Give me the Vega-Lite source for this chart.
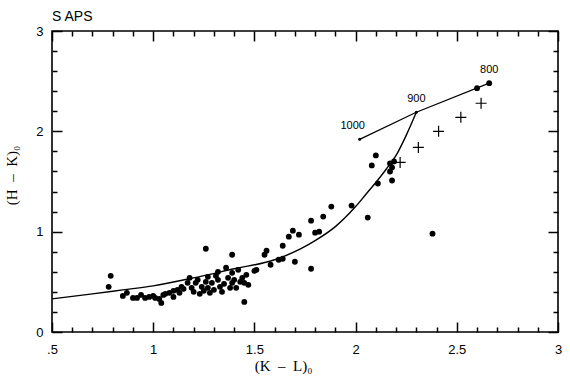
{
  "$schema": "https://vega.github.io/schema/vega-lite/v6.json",
  "width": 506,
  "height": 301,
  "autosize": {"type": "none"},
  "padding": {"left": 52, "top": 31, "right": 12, "bottom": 44},
  "background": "white",
  "title": {"text": "S APS", "anchor": "start", "frame": "group", "offset": -10, "baseline": "alphabetic", "font": "Liberation Sans", "fontSize": 14, "fontWeight": "normal", "color": "black"},
  "config": {
    "view": {"stroke": "black", "strokeWidth": 1.6},
    "axis": {"labelFont": "Liberation Sans", "labelFontSize": 13, "labelColor": "black", "titleFont": "Liberation Serif", "titleFontSize": 15, "titleFontWeight": "normal", "titleColor": "black", "tickColor": "black", "tickWidth": 1.5, "domain": false, "grid": false}
  },
  "datasets": {
    "stars": [
      {"kl": 0.79, "hk": 0.56}, {"kl": 0.78, "hk": 0.45},
      {"kl": 0.85, "hk": 0.36}, {"kl": 0.87, "hk": 0.39}, {"kl": 0.90, "hk": 0.34}, {"kl": 0.92, "hk": 0.34},
      {"kl": 0.94, "hk": 0.37}, {"kl": 0.96, "hk": 0.34}, {"kl": 0.98, "hk": 0.35}, {"kl": 1.00, "hk": 0.36},
      {"kl": 1.01, "hk": 0.34}, {"kl": 1.03, "hk": 0.33}, {"kl": 1.04, "hk": 0.29}, {"kl": 1.05, "hk": 0.37},
      {"kl": 1.06, "hk": 0.38}, {"kl": 1.08, "hk": 0.39}, {"kl": 1.10, "hk": 0.35}, {"kl": 1.10, "hk": 0.41},
      {"kl": 1.12, "hk": 0.42}, {"kl": 1.13, "hk": 0.39}, {"kl": 1.14, "hk": 0.45}, {"kl": 1.15, "hk": 0.43},
      {"kl": 1.17, "hk": 0.49}, {"kl": 1.18, "hk": 0.54}, {"kl": 1.19, "hk": 0.44}, {"kl": 1.20, "hk": 0.40},
      {"kl": 1.21, "hk": 0.49}, {"kl": 1.22, "hk": 0.52}, {"kl": 1.23, "hk": 0.38}, {"kl": 1.24, "hk": 0.45},
      {"kl": 1.25, "hk": 0.41}, {"kl": 1.26, "hk": 0.50}, {"kl": 1.27, "hk": 0.44}, {"kl": 1.27, "hk": 0.55},
      {"kl": 1.28, "hk": 0.39}, {"kl": 1.29, "hk": 0.49}, {"kl": 1.30, "hk": 0.42}, {"kl": 1.31, "hk": 0.56},
      {"kl": 1.32, "hk": 0.60}, {"kl": 1.32, "hk": 0.52}, {"kl": 1.33, "hk": 0.45}, {"kl": 1.34, "hk": 0.40},
      {"kl": 1.35, "hk": 0.48}, {"kl": 1.36, "hk": 0.64}, {"kl": 1.37, "hk": 0.54}, {"kl": 1.38, "hk": 0.44},
      {"kl": 1.39, "hk": 0.49}, {"kl": 1.39, "hk": 0.59}, {"kl": 1.40, "hk": 0.52}, {"kl": 1.41, "hk": 0.44},
      {"kl": 1.42, "hk": 0.62}, {"kl": 1.43, "hk": 0.50}, {"kl": 1.44, "hk": 0.54}, {"kl": 1.45, "hk": 0.49},
      {"kl": 1.46, "hk": 0.57}, {"kl": 1.47, "hk": 0.47},
      {"kl": 1.26, "hk": 0.83}, {"kl": 1.39, "hk": 0.77}, {"kl": 1.45, "hk": 0.30}, {"kl": 1.50, "hk": 0.61},
      {"kl": 1.51, "hk": 0.62}, {"kl": 1.55, "hk": 0.77}, {"kl": 1.56, "hk": 0.81}, {"kl": 1.58, "hk": 0.67},
      {"kl": 1.62, "hk": 0.72}, {"kl": 1.64, "hk": 0.73}, {"kl": 1.64, "hk": 0.86}, {"kl": 1.67, "hk": 0.95},
      {"kl": 1.69, "hk": 1.01}, {"kl": 1.70, "hk": 0.70}, {"kl": 1.72, "hk": 0.97}, {"kl": 1.78, "hk": 0.63},
      {"kl": 1.78, "hk": 1.11}, {"kl": 1.80, "hk": 0.99}, {"kl": 1.82, "hk": 1.00}, {"kl": 1.84, "hk": 1.15},
      {"kl": 1.88, "hk": 1.25}, {"kl": 1.98, "hk": 1.26}, {"kl": 2.06, "hk": 1.14}, {"kl": 2.08, "hk": 1.66},
      {"kl": 2.10, "hk": 1.76}, {"kl": 2.11, "hk": 1.48}, {"kl": 2.17, "hk": 1.68}, {"kl": 2.18, "hk": 1.64},
      {"kl": 2.17, "hk": 1.60}, {"kl": 2.18, "hk": 1.51}, {"kl": 2.19, "hk": 1.70}, {"kl": 2.38, "hk": 0.98},
      {"kl": 2.60, "hk": 2.43}, {"kl": 2.66, "hk": 2.48}
    ],
    "curve": [
      {"kl": 0.5, "hk": 0.33}, {"kl": 0.7, "hk": 0.38}, {"kl": 0.85, "hk": 0.42}, {"kl": 1.0, "hk": 0.46},
      {"kl": 1.2, "hk": 0.54}, {"kl": 1.4, "hk": 0.63}, {"kl": 1.6, "hk": 0.72}, {"kl": 1.73, "hk": 0.83},
      {"kl": 1.8, "hk": 0.91}, {"kl": 1.9, "hk": 1.05}, {"kl": 2.0, "hk": 1.25}, {"kl": 2.05, "hk": 1.37},
      {"kl": 2.1, "hk": 1.49}, {"kl": 2.15, "hk": 1.62}, {"kl": 2.2, "hk": 1.76}, {"kl": 2.25, "hk": 1.96},
      {"kl": 2.30, "hk": 2.19}
    ],
    "temps": [
      {"kl": 2.02, "hk": 1.92, "label": "1000"},
      {"kl": 2.30, "hk": 2.19, "label": "900"},
      {"kl": 2.66, "hk": 2.48, "label": "800"}
    ],
    "crosses": [
      {"kl": 2.22, "hk": 1.69}, {"kl": 2.31, "hk": 1.84}, {"kl": 2.41, "hk": 2.00},
      {"kl": 2.52, "hk": 2.14}, {"kl": 2.62, "hk": 2.28}
    ]
  },
  "layer": [
    {
      "data": {"name": "stars"},
      "mark": {"type": "point", "shape": "circle", "filled": true, "color": "black", "opacity": 1, "size": 34},
      "encoding": {
        "x": {"field": "kl", "type": "quantitative", "scale": {"domain": [0.5, 3], "nice": false, "zero": false},
          "axis": {"orient": "bottom", "values": [0.5, 1, 1.5, 2, 2.5, 3], "tickSize": -10,
            "labelExpr": "abs(datum.value-0.5)<0.01 ? '.5' : format(datum.value, '')",
            "labelPadding": 21, "labelBaseline": "top", "labelFlush": false,
            "title": "(K\u2002–\u2002L)\u2080", "titleX": 231, "titleY": 38, "titleBaseline": "alphabetic"}},
        "y": {"field": "hk", "type": "quantitative", "scale": {"domain": [0, 3], "nice": false, "zero": false},
          "axis": {"orient": "left", "values": [0, 1, 2, 3], "tickSize": -10,
            "labelExpr": "format(datum.value, '')",
            "labelPadding": 19, "labelFlush": false,
            "title": "(H\u2002–\u2002K)\u2080", "titleX": -41, "titleY": 144, "titleBaseline": "middle", "titleAngle": -90}}
      }
    },
    {
      "data": {"name": "curve"},
      "mark": {"type": "line", "color": "black", "strokeWidth": 1.4, "interpolate": "monotone"},
      "encoding": {
        "x": {"field": "kl", "type": "quantitative", "scale": {"domain": [0.5, 3], "nice": false, "zero": false},
          "axis": {"orient": "top", "values": [0.5, 1, 1.5, 2, 2.5, 3], "tickSize": -10, "labels": false, "title": null, "minExtent": 0, "maxExtent": 0}},
        "y": {"field": "hk", "type": "quantitative", "scale": {"domain": [0, 3], "nice": false, "zero": false},
          "axis": {"orient": "right", "values": [0, 1, 2, 3], "tickSize": -10, "labels": false, "title": null, "minExtent": 0, "maxExtent": 0}}
      }
    },
    {
      "data": {"name": "temps"},
      "mark": {"type": "line", "color": "black", "strokeWidth": 1.2, "point": {"filled": true, "color": "black", "size": 9}},
      "encoding": {
        "x": {"field": "kl", "type": "quantitative", "scale": {"domain": [0.5, 3], "nice": false, "zero": false},
          "axis": {"orient": "bottom", "values": [0.6,0.7,0.8,0.9,1.1,1.2,1.3,1.4,1.6,1.7,1.8,1.9,2.1,2.2,2.3,2.4,2.6,2.7,2.8,2.9], "tickSize": -5, "labels": false, "title": null, "minExtent": 0, "maxExtent": 0}},
        "y": {"field": "hk", "type": "quantitative", "scale": {"domain": [0, 3], "nice": false, "zero": false},
          "axis": {"orient": "left", "values": [0.2,0.4,0.6,0.8,1.2,1.4,1.6,1.8,2.2,2.4,2.6,2.8], "tickSize": -5, "labels": false, "title": null, "minExtent": 0, "maxExtent": 0}}
      }
    },
    {
      "data": {"name": "temps"},
      "transform": [{"filter": "datum.label != '1000'"}],
      "mark": {"type": "text", "font": "Liberation Sans", "fontSize": 11, "color": "black", "align": "center", "baseline": "middle", "dy": -13},
      "encoding": {
        "x": {"field": "kl", "type": "quantitative", "scale": {"domain": [0.5, 3], "nice": false, "zero": false}, "axis": null},
        "y": {"field": "hk", "type": "quantitative", "scale": {"domain": [0, 3], "nice": false, "zero": false}, "axis": null},
        "text": {"field": "label"}
      }
    },
    {
      "data": {"name": "temps"},
      "transform": [{"filter": "datum.label == '1000'"}],
      "mark": {"type": "text", "font": "Liberation Sans", "fontSize": 11, "color": "black", "align": "center", "baseline": "middle", "dy": -13, "dx": -7},
      "encoding": {
        "x": {"field": "kl", "type": "quantitative", "scale": {"domain": [0.5, 3], "nice": false, "zero": false}, "axis": null},
        "y": {"field": "hk", "type": "quantitative", "scale": {"domain": [0, 3], "nice": false, "zero": false}, "axis": null},
        "text": {"field": "label"}
      }
    },
    {
      "data": {"name": "crosses"},
      "mark": {"type": "point", "shape": "M-1,0H1M0,-1V1", "filled": false, "stroke": "black", "strokeWidth": 1.2, "opacity": 1, "size": 121},
      "encoding": {
        "x": {"field": "kl", "type": "quantitative", "scale": {"domain": [0.5, 3], "nice": false, "zero": false},
          "axis": {"orient": "top", "values": [0.6,0.7,0.8,0.9,1.1,1.2,1.3,1.4,1.6,1.7,1.8,1.9,2.1,2.2,2.3,2.4,2.6,2.7,2.8,2.9], "tickSize": -5, "labels": false, "title": null, "minExtent": 0, "maxExtent": 0}},
        "y": {"field": "hk", "type": "quantitative", "scale": {"domain": [0, 3], "nice": false, "zero": false},
          "axis": {"orient": "right", "values": [0.2,0.4,0.6,0.8,1.2,1.4,1.6,1.8,2.2,2.4,2.6,2.8], "tickSize": -5, "labels": false, "title": null, "minExtent": 0, "maxExtent": 0}}
      }
    }
  ],
  "resolve": {"axis": {"x": "independent", "y": "independent"}}
}
